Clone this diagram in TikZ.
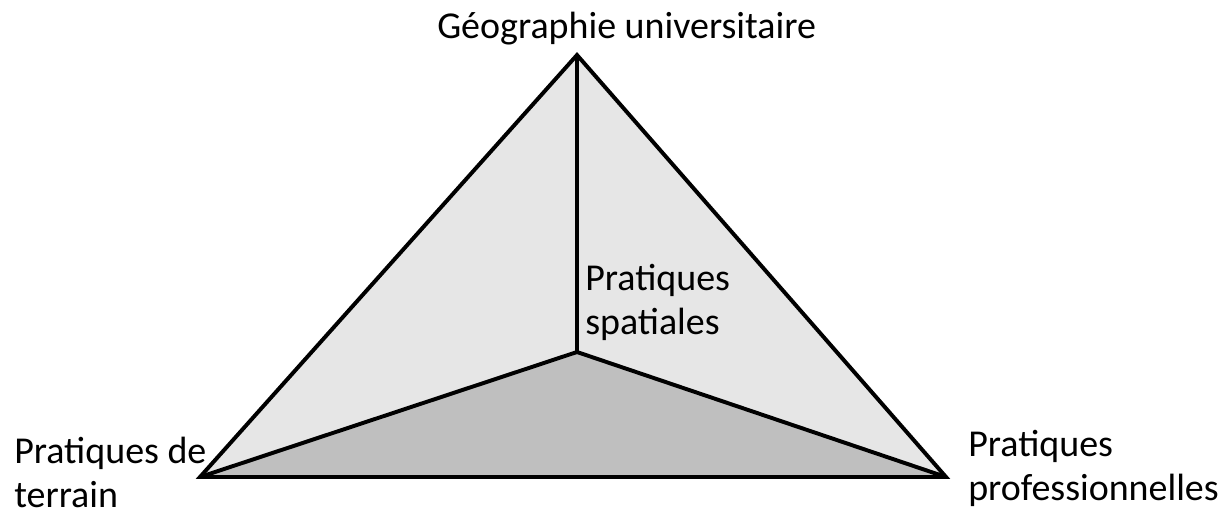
\documentclass[tikz,border=0pt]{standalone}
\usepackage{fontspec}
\setmainfont{Carlito}
\usepackage{xcolor}
\usepackage{tikz}
\usetikzlibrary{positioning}
\definecolor{facelight}{HTML}{E6E6E6}
\definecolor{facedark}{HTML}{BFBFBF}

\begin{document}
\begin{tikzpicture}[
  x=0.025cm, y=-0.025cm,
  edge/.style ={draw=black, line width=2.8pt, line join=miter},
  lbl/.style  ={font=\fontsize{27}{31}\selectfont, inner sep=0pt, align=left, anchor=base west},
]
  \useasboundingbox (0,0) rectangle (1221,516);

  % sommets du tetraedre
  \coordinate (top)   at (577,55);
  \coordinate (left)  at (200,477);
  \coordinate (right) at (946,477);
  \coordinate (mid)   at (577,352);

  % faces
  \fill[facelight] (top) -- (left) -- (mid) -- cycle;
  \fill[facelight] (top) -- (mid) -- (right) -- cycle;
  \fill[facedark]  (left) -- (mid) -- (right) -- cycle;

  % aretes
  \draw[edge] (top) -- (left) -- (right) -- cycle;
  \draw[edge] (mid) -- (top);
  \draw[edge] (mid) -- (left);
  \draw[edge] (mid) -- (right);

  % etiquettes (base = derniere ligne)
  \node[lbl] (univ) at (437,38)  {Géographie universitaire};
  \node[lbl] (spat) at (585,334) {Pratiques\\spatiales};
  \node[lbl] (terr) at (14,507)  {Pratiques de\\terrain};
  \node[lbl] (prof) at (968,500) {Pratiques\\professionnelles};
\end{tikzpicture}
\end{document}
